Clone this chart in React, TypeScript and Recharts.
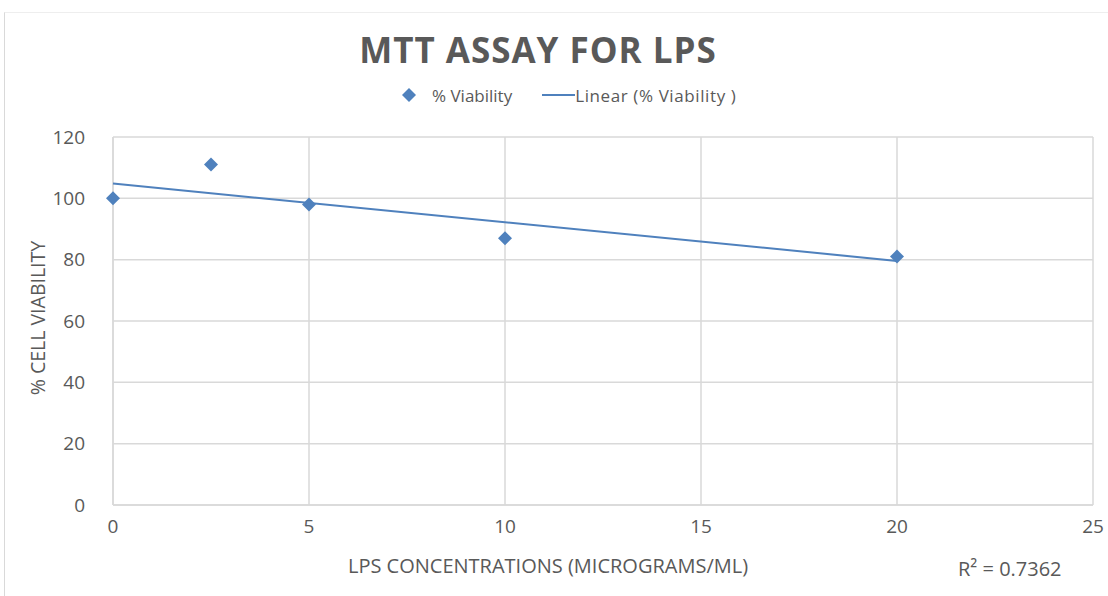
import React from 'react';
import { ScatterChart, Scatter, XAxis, YAxis, CartesianGrid } from 'recharts';

const concentrations = [0, 2.5, 5, 10, 20];
const viability = [100, 111, 98, 87, 81];
const trendX = [0, 20];
const trendY = [104.8, 79.6];
const xTicks = [0, 5, 10, 15, 20, 25];
const yTicks = [0, 20, 40, 60, 80, 100, 120];
const rSquared = '0.7362';

const points = concentrations.map((x, i) => ({ x, y: viability[i] }));
const trend = trendX.map((x, i) => ({ x, y: trendY[i] }));

const FONT = "'Open Sans', 'Noto Sans', sans-serif";
const TEXT = '#595959';
const BLUE = '#4f81bd';

const Diamond = (props: any) => {
  const { cx, cy } = props;
  if (cx == null || cy == null) return null;
  const r = 7;
  return <path d={`M${cx},${cy - r}L${cx + r},${cy}L${cx},${cy + r}L${cx - r},${cy}Z`} fill={BLUE} />;
};

const App: React.FC = () => {
  return (
    <div style={{ position: 'absolute', left: 0, top: 0, width: 1108, height: 596, background: '#fff' }}>
      <div
        style={{
          position: 'absolute',
          left: 4,
          top: 12,
          right: 0,
          bottom: 0,
          borderLeft: '1px solid #d9d9d9',
          borderTop: '1px solid #eeeeee',
        }}
      />
      <div
        style={{
          position: 'absolute',
          top: 26,
          left: 0,
          width: 1076,
          textAlign: 'center',
          fontFamily: FONT,
          fontWeight: 700,
          fontSize: 35,
          color: TEXT,
          letterSpacing: 1,
        }}
      >
        MTT ASSAY FOR LPS
      </div>
      {/* legend */}
      <div
        style={{
          position: 'absolute',
          top: 84,
          left: 401,
          display: 'flex',
          alignItems: 'center',
          fontFamily: FONT,
          fontSize: 17,
          color: TEXT,
          height: 22,
        }}
      >
        <svg width={16} height={16} style={{ marginRight: 15 }}>
          <path d="M8,1L15,8L8,15L1,8Z" fill={BLUE} />
        </svg>
        <span style={{ marginRight: 30 }}>% Viability</span>
        <svg width={33} height={4}>
          <line x1={0} y1={2} x2={33} y2={2} stroke={BLUE} strokeWidth={2} />
        </svg>
        <span style={{ letterSpacing: 0.6 }}>Linear (% Viability )</span>
      </div>
      <div
        style={{
          position: 'absolute',
          top: 552,
          left: 0,
          width: 1096,
          textAlign: 'center',
          fontFamily: FONT,
          fontSize: 20,
          color: TEXT,
        }}
      >
        LPS CONCENTRATIONS (MICROGRAMS/ML)
      </div>
      <div
        style={{
          position: 'absolute',
          left: 37,
          top: 318,
          transform: 'translate(-50%, -50%) rotate(-90deg)',
          whiteSpace: 'nowrap',
          fontFamily: FONT,
          fontSize: 19.5,
          color: TEXT,
        }}
      >
        % CELL VIABILITY
      </div>
      <div
        style={{
          position: 'absolute',
          left: 958,
          top: 555,
          fontFamily: FONT,
          fontSize: 20,
          color: TEXT,
        }}
      >
        R² = {rSquared}
      </div>
      <div style={{ position: 'absolute', left: 0, top: 0 }}>
        <ScatterChart width={1108} height={596} margin={{ top: 137, right: 15, bottom: 61, left: 20 }}>
          <CartesianGrid stroke="#d9d9d9" strokeWidth={1.5} />
          <XAxis
            type="number"
            dataKey="x"
            domain={[0, 25]}
            ticks={xTicks}
            height={30}
            stroke="#d9d9d9"
            strokeWidth={1.5}
            tickLine={false}
            tick={{ fill: TEXT, fontSize: 19, fontFamily: FONT }}
            tickMargin={9}
          />
          <YAxis
            type="number"
            dataKey="y"
            domain={[0, 120]}
            ticks={yTicks}
            width={93}
            stroke="#d9d9d9"
            strokeWidth={1.5}
            tickLine={false}
            tick={{ fill: TEXT, fontSize: 19, fontFamily: FONT }}
            tickMargin={22}
          />
          <Scatter
            name="Linear (% Viability )"
            data={trend}
            line={{ stroke: BLUE, strokeWidth: 2 }}
            shape={() => null}
            isAnimationActive={false}
          />
          <Scatter name="% Viability" data={points} shape={<Diamond />} isAnimationActive={false} />
        </ScatterChart>
      </div>
    </div>
  );
};

export default App;
